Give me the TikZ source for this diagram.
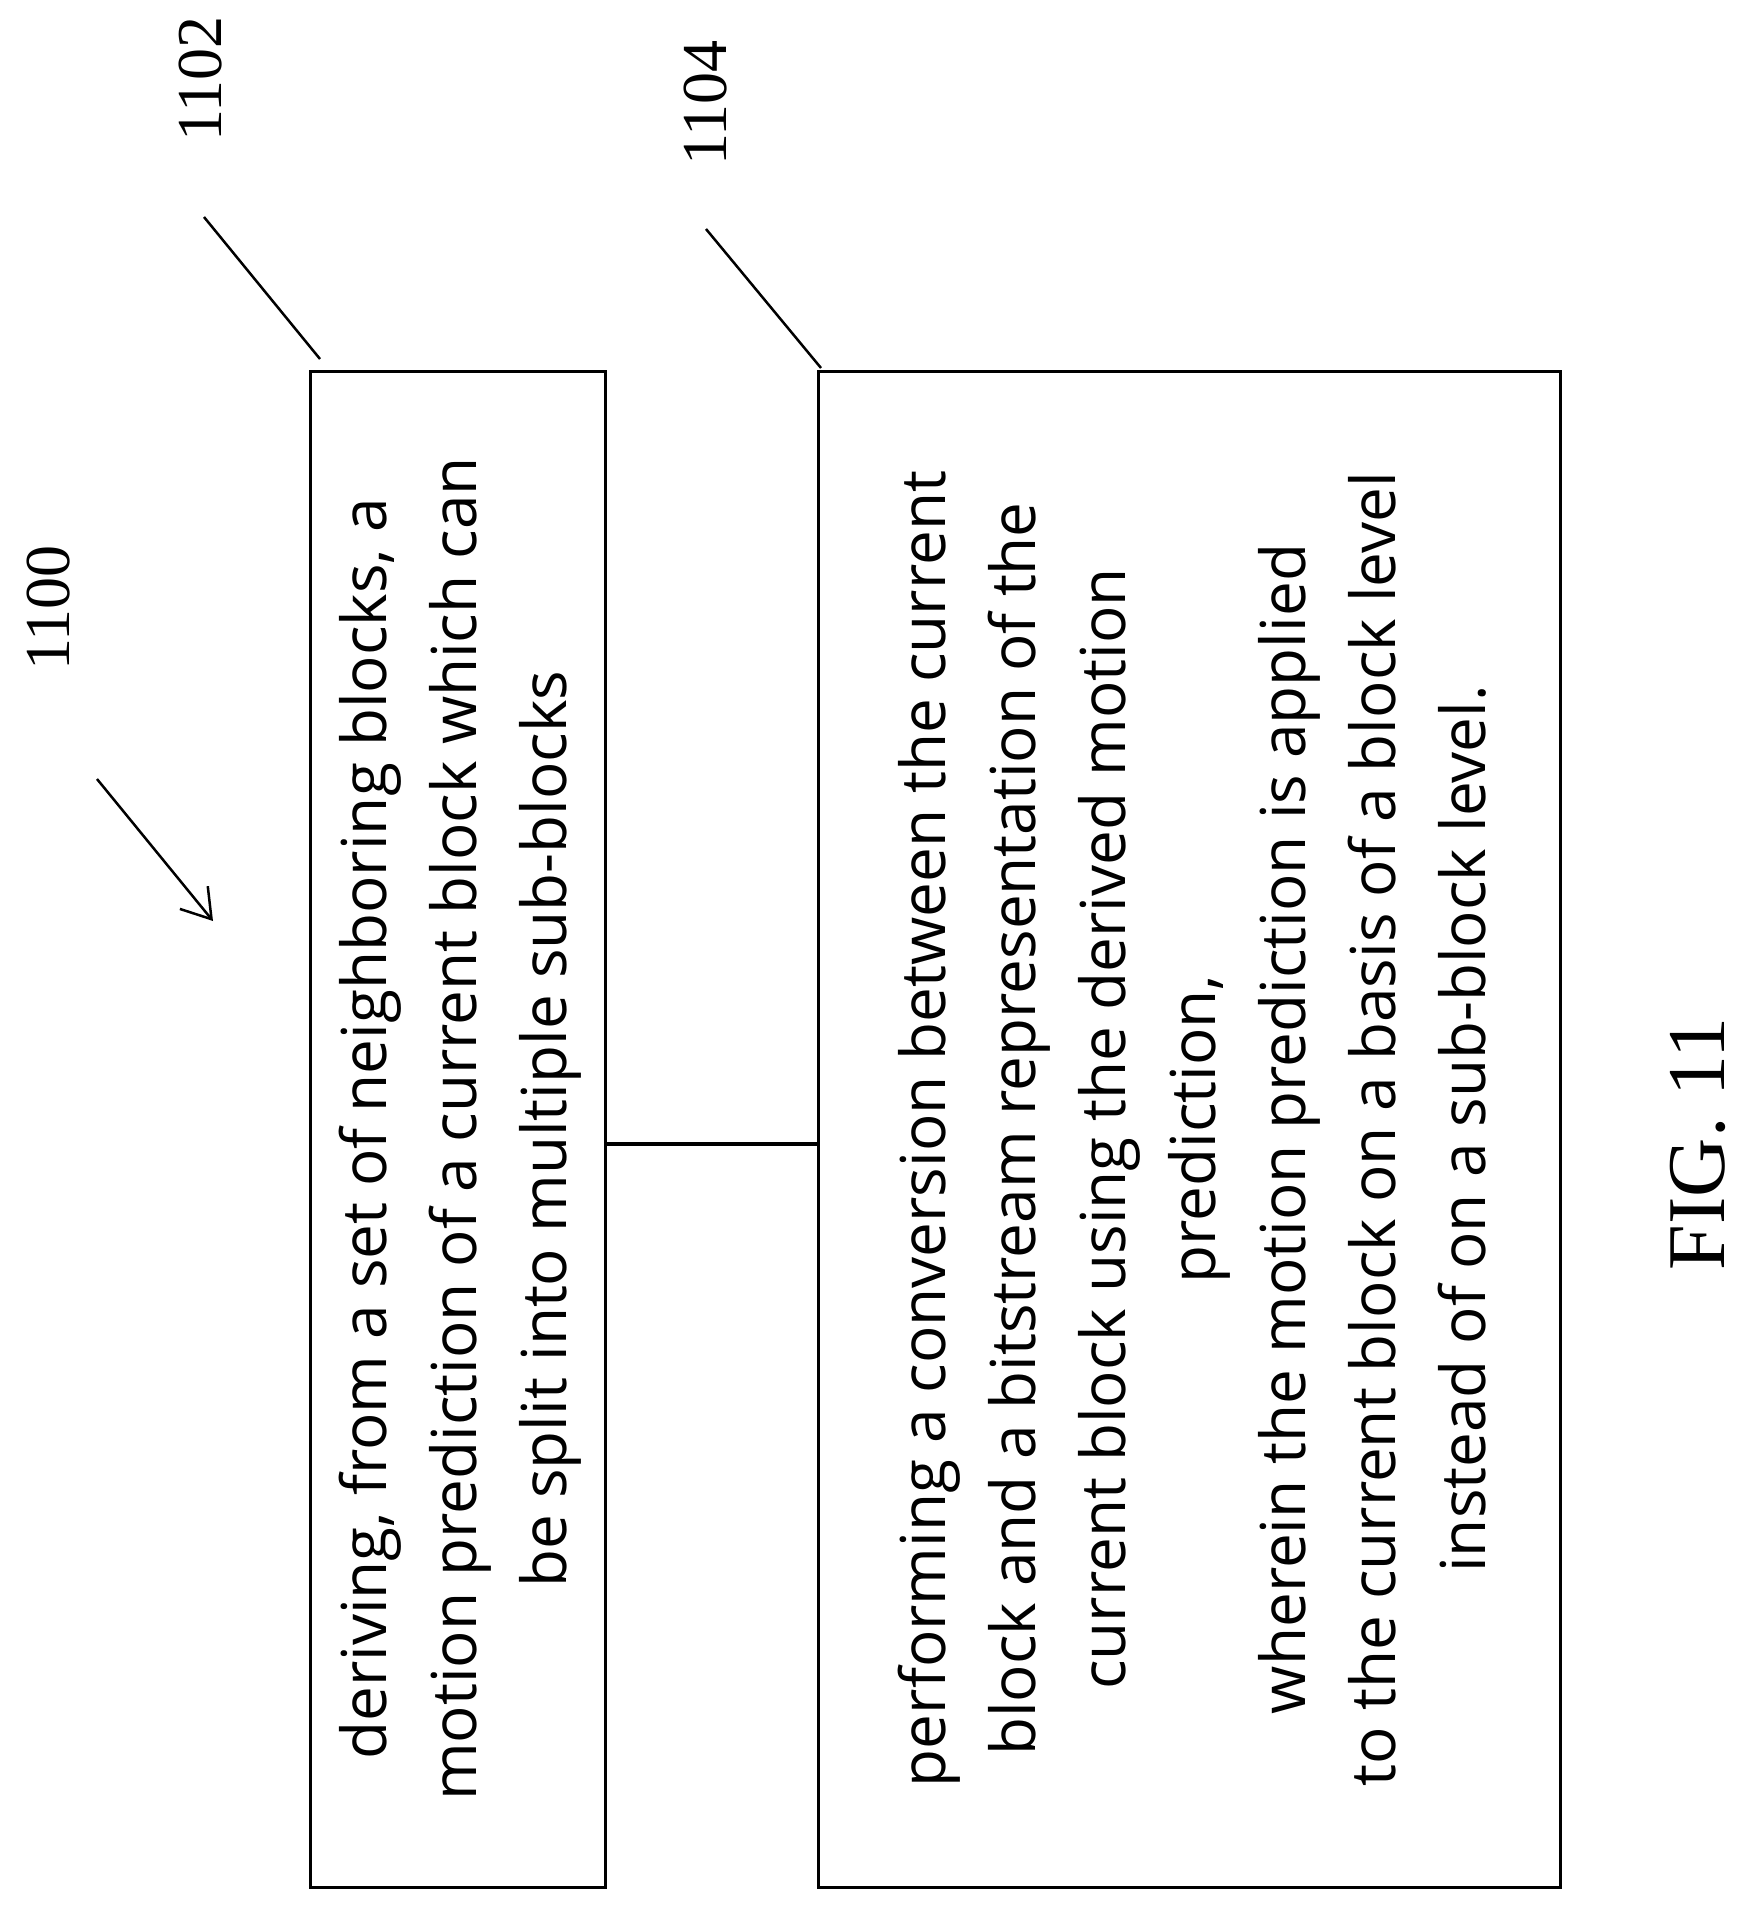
\documentclass[tikz,border=0pt]{standalone}
\usepackage{fontspec}
\setmainfont{Liberation Serif}
\newfontfamily\boxfont{Open Sans}
\usetikzlibrary{arrows.meta}
\begin{document}
\begin{tikzpicture}[x=1pt,y=-1pt,
  box/.style={draw,line width=3pt},
  txt/.style={rotate=90,align=center,font=\boxfont\fontsize{62}{90}\selectfont},
  lbl/.style={rotate=90,font=\fontsize{64}{70}\selectfont},
  ln/.style={line width=2.5pt}]
\useasboundingbox (0,0) rectangle (1753,1913);
\draw[box] (310,371) rectangle (605,1887);
\draw[box] (818,371) rectangle (1560,1887);
\node[txt] (t1) at (460,1129) {deriving, from a set of neighboring blocks, a\\motion prediction of a current block which can\\be split into multiple sub-blocks};
\node[txt] (t2) at (1192,1129) {performing a conversion between the current\\block and a bitstream representation of the\\current block using the derived motion\\prediction,\\wherein the motion prediction is applied\\to the current block on a basis of a block level\\instead of on a sub-block level.};
\coordinate (c1) at (605,1144);
\coordinate (c2) at (818,1144);
\draw[line width=4pt] (c1) -- (c2);
\node[lbl] (l1102) at (201,79) {1102};
\node[lbl] (l1104) at (706,103) {1104};
\node[lbl] (l1100) at (49,608) {1100};
\node[rotate=90,font=\fontsize{82}{90}\selectfont] (fig) at (1698,1144) {FIG. 11};
\coordinate (a1) at (204,217); \coordinate (b1) at (320,359);
\coordinate (a2) at (706,229); \coordinate (b2) at (821,368);
\coordinate (a3) at (97,779); \coordinate (b3) at (213,921);
\draw[ln] (a1) -- (b1);
\draw[ln] (a2) -- (b2);
\draw[ln,-{Straight Barb[length=28pt,width=36pt,line width=2.5pt]}] (a3) -- (b3);
\end{tikzpicture}
\end{document}
